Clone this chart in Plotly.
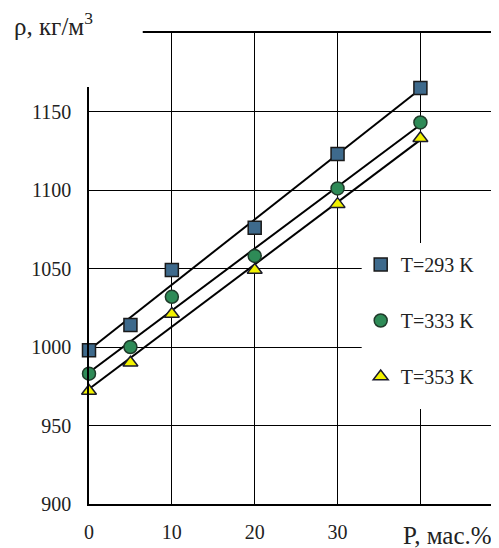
import numpy as np
import plotly.graph_objects as go

# Data
p_mass = [0, 5, 10, 20, 30, 40]
rho_293 = [998, 1014, 1049, 1076, 1123, 1165]
rho_333 = [983, 1000, 1032, 1058, 1101, 1143]
rho_353 = [972, 990, 1021, 1049, 1091, 1133]
series_names = ["T=293 K", "T=333 K", "T=353 K"]
x_ticks = [0, 10, 20, 30, 40]
x_tick_text = ["0", "10", "20", "30", ""]
y_ticks = [900, 950, 1000, 1050, 1100, 1150]

OFF = 8  # page body margin offset
W, H = 499, 548
L, R, T, B = 89 - OFF, 0, 33 - OFF, H - (504 - OFF)
FONT = "Liberation Serif"

styles = [
    dict(symbol="square", color="#3e6a8c", line=dict(color="#1a1a1a", width=1.5), size=13),
    dict(symbol="circle", color="#2e8b57", line=dict(color="#1f3b2a", width=1.5), size=13),
    dict(symbol="triangle-up", color="#f2f200", line=dict(color="#1a1a2a", width=1.5), size=13),
]

fig = go.Figure()
series = [rho_293, rho_333, rho_353]
xs = np.array(p_mass, dtype=float)
for ys in series:
    k, b = np.polyfit(xs, np.array(ys, dtype=float), 1)
    xl = [xs.min(), xs.max()]
    fig.add_trace(go.Scatter(x=xl, y=[k * v + b for v in xl], mode="lines",
                             line=dict(color="black", width=2), showlegend=False,
                             hoverinfo="skip"))
for i, (ys, name, st) in enumerate(zip(series, series_names, styles)):
    fig.add_trace(go.Scatter(x=p_mass, y=ys, mode="markers", name=name,
                             legendgroup=str(i), marker=st, cliponaxis=False))

pw = W - L - R
ph = H - T - B
def px_x(x):
    return (x - OFF - L) / pw
def px_y(y):
    return (H - B - (y - OFF)) / ph

axis_common = dict(showgrid=True, gridcolor="black", gridwidth=1, showline=True,
                   linecolor="black", linewidth=1.5, mirror=True, zeroline=False,
                   ticks="", tickfont=dict(family=FONT, size=20, color="#222"))

fig.update_layout(
    width=W, height=H,
    margin=dict(l=L, r=R, t=T, b=B, pad=0),
    paper_bgcolor="white", plot_bgcolor="white",
    font=dict(family=FONT, size=20, color="#222"),
    showlegend=True,
    legend=dict(x=px_x(362), y=px_y(245), xanchor="left", yanchor="top",
                bgcolor="rgba(0,0,0,0)", borderwidth=0, tracegroupgap=27,
                font=dict(family=FONT, size=20, color="#222"),
                itemwidth=30),
    xaxis=dict(range=[0, (W - R - L) / 8.325], tickvals=x_ticks, ticktext=x_tick_text,
               ticklabelstandoff=9, **axis_common),
    yaxis=dict(range=[900, 1200], tickvals=y_ticks, ticklabelstandoff=12, **axis_common),
    shapes=[
        dict(type="rect", xref="paper", yref="paper", x0=px_x(0), x1=px_x(143),
             y0=px_y(87), y1=px_y(0), fillcolor="white", line=dict(width=0), layer="above"),
        dict(type="rect", xref="paper", yref="paper", x0=px_x(363), x1=px_x(497),
             y0=px_y(409), y1=px_y(243), fillcolor="white", line=dict(width=0), layer="above"),
    ],
    annotations=[
        dict(text="ρ, кг/м<sup>3</sup>", xref="paper", yref="paper", x=px_x(12), y=px_y(24),
             xanchor="left", yanchor="middle", showarrow=False,
             font=dict(family=FONT, size=25, color="#222")),
        dict(text="P, мас.%", xref="paper", yref="paper", x=px_x(402), y=px_y(535),
             xanchor="left", yanchor="middle", showarrow=False,
             font=dict(family=FONT, size=25, color="#222")),
    ],
)

fig.write_html("out.html")
